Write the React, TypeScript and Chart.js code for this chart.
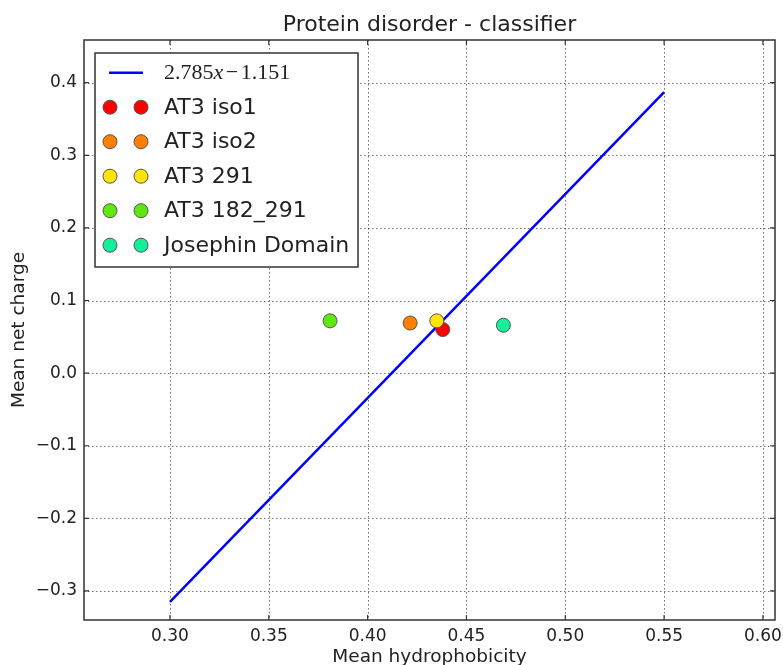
import { useEffect, useRef } from "react";
import { Chart, registerables } from "chart.js";
Chart.register(...registerables);

const titleText = "Protein disorder - classifier";
const xLabel = "Mean hydrophobicity";
const yLabel = "Mean net charge";

const xTicks = [0.3, 0.35, 0.4, 0.45, 0.5, 0.55, 0.6];
const yTicks = [-0.3, -0.2, -0.1, 0.0, 0.1, 0.2, 0.3, 0.4];
const xRange = [0.2565, 0.6061];
const yRange = [-0.34, 0.4588];

const slope = 2.785;
const intercept = -1.151;
const lineX = [0.3, 0.55];
const lineY = [-0.315, 0.387];

const seriesNames = ["AT3 iso1", "AT3 iso2", "AT3 291", "AT3 182_291", "Josephin Domain"];
const hydrophobicity = [0.438, 0.4215, 0.435, 0.381, 0.4687];
const netCharge = [0.06, 0.069, 0.072, 0.072, 0.066];
const seriesColors = ["#ff0000", "#ff7f00", "#ffe600", "#5fe80f", "#14ef9a"];

const SANS = "'DejaVu Sans', sans-serif";

const gridPlugin = {
  id: "mplGrid",
  beforeDatasetsDraw(chart: any) {
    const { ctx, chartArea: a, scales } = chart;
    ctx.save();
    ctx.strokeStyle = "rgba(0,0,0,0.55)";
    ctx.lineWidth = 1;
    ctx.setLineDash([1.5, 2.5]);
    xTicks.forEach((v) => {
      const px = Math.round(scales.x.getPixelForValue(v)) + 0.5;
      ctx.beginPath();
      ctx.moveTo(px, a.top);
      ctx.lineTo(px, a.bottom);
      ctx.stroke();
    });
    yTicks.forEach((v) => {
      const py = Math.round(scales.y.getPixelForValue(v)) + 0.5;
      ctx.beginPath();
      ctx.moveTo(a.left, py);
      ctx.lineTo(a.right, py);
      ctx.stroke();
    });
    ctx.restore();
  },
};

const framePlugin = {
  id: "mplFrame",
  afterDatasetsDraw(chart: any) {
    const { ctx, chartArea: a, scales } = chart;
    ctx.save();
    ctx.setLineDash([]);
    ctx.strokeStyle = "#333";
    ctx.lineWidth = 1.5;
    ctx.strokeRect(a.left, a.top, a.right - a.left, a.bottom - a.top);
    ctx.lineWidth = 1.2;
    const tl = 5;
    xTicks.forEach((v) => {
      const px = scales.x.getPixelForValue(v);
      ctx.beginPath();
      ctx.moveTo(px, a.bottom);
      ctx.lineTo(px, a.bottom - tl);
      ctx.moveTo(px, a.top);
      ctx.lineTo(px, a.top + tl);
      ctx.stroke();
    });
    yTicks.forEach((v) => {
      const py = scales.y.getPixelForValue(v);
      ctx.beginPath();
      ctx.moveTo(a.left, py);
      ctx.lineTo(a.left + tl, py);
      ctx.moveTo(a.right, py);
      ctx.lineTo(a.right - tl, py);
      ctx.stroke();
    });
    ctx.restore();
  },
};

const legendPlugin = {
  id: "mplLegend",
  afterDatasetsDraw(chart: any) {
    const { ctx } = chart;
    const box = { left: 95, top: 53, right: 358, bottom: 267 };
    ctx.save();
    ctx.setLineDash([]);
    ctx.fillStyle = "#fff";
    ctx.fillRect(box.left, box.top, box.right - box.left, box.bottom - box.top);
    ctx.strokeStyle = "#333";
    ctx.lineWidth = 1.5;
    ctx.strokeRect(box.left, box.top, box.right - box.left, box.bottom - box.top);
    const rowY0 = 72.7;
    const rowStep = 34.5;
    const m1 = 110;
    const m2 = 141;
    const textX = 164;
    const ds = chart.data.datasets;
    ds.forEach((d: any, i: number) => {
      const y = rowY0 + i * rowStep;
      if (i === 0) {
        ctx.strokeStyle = d.borderColor;
        ctx.lineWidth = 2.5;
        ctx.beginPath();
        ctx.moveTo(m1 - 1, y);
        ctx.lineTo(m2 + 2, y);
        ctx.stroke();
        ctx.fillStyle = "#222";
        ctx.textBaseline = "middle";
        ctx.textAlign = "left";
        const fs = 22;
        const parts: [string, string][] = [
          [slope.toFixed(3), `${fs}px 'Liberation Serif', serif`],
          ["x", `italic ${fs}px 'Liberation Serif', serif`],
          ["\u2212", `${fs}px 'Liberation Serif', serif`],
          [Math.abs(intercept).toFixed(3), `${fs}px 'Liberation Serif', serif`],
        ];
        let x = textX;
        parts.forEach(([t, f], k) => {
          ctx.font = f;
          if (k === 2) x += 2.5;
          ctx.fillText(t, x, y + 1);
          x += ctx.measureText(t).width;
          if (k === 2) x += 2.5;
        });
      } else {
        [m1, m2].forEach((mx) => {
          ctx.beginPath();
          ctx.arc(mx, y, 7, 0, Math.PI * 2);
          ctx.fillStyle = d.backgroundColor;
          ctx.fill();
          ctx.strokeStyle = "#555";
          ctx.lineWidth = 1;
          ctx.stroke();
        });
        ctx.fillStyle = "#222";
        ctx.font = `22px ${SANS}`;
        ctx.textBaseline = "middle";
        ctx.textAlign = "left";
        ctx.fillText(d.label, textX, y + 1);
      }
    });
    ctx.restore();
  },
};

const textPlugin = {
  id: "mplText",
  afterDraw(chart: any) {
    const { ctx, chartArea: a } = chart;
    const cx = (a.left + a.right) / 2;
    ctx.save();
    ctx.fillStyle = "#222";
    ctx.textAlign = "center";
    ctx.textBaseline = "alphabetic";
    ctx.font = `22px ${SANS}`;
    ctx.fillText(titleText, cx, 31);
    ctx.font = `18.5px ${SANS}`;
    ctx.fillText(xLabel, cx, 662);
    ctx.translate(24, (a.top + a.bottom) / 2);
    ctx.rotate(-Math.PI / 2);
    ctx.fillText(yLabel, 0, 0);
    ctx.restore();
  },
};

const fmtY = (v: number) => {
  const s = Math.abs(v).toFixed(1);
  return v < -1e-9 ? "\u2212" + s : s;
};

export default function App() {
  const ref = useRef<HTMLCanvasElement>(null);
  useEffect(() => {
    document.body.style.margin = "0";
    const canvas = ref.current!;
    const lineDs = {
      type: "line" as const,
      label: `${slope}x${intercept}`,
      data: lineX.map((x, i) => ({ x, y: lineY[i] })),
      borderColor: "#0000ff",
      backgroundColor: "#0000ff",
      borderWidth: 2.5,
      pointRadius: 0,
      showLine: true,
      fill: false,
      order: 10,
    };
    const pointDs = seriesNames.map((name, i) => ({
      type: "scatter" as const,
      label: name,
      data: [{ x: hydrophobicity[i], y: netCharge[i] }],
      backgroundColor: seriesColors[i],
      borderColor: "#555",
      borderWidth: 1,
      pointRadius: 7,
      order: 5 - i,
    }));
    const chart = new Chart(canvas, {
      type: "scatter",
      data: { datasets: [lineDs as any, ...pointDs] },
      options: {
        animation: false,
        responsive: false,
        events: [],
        layout: { padding: { left: 0, top: 40, right: 8, bottom: 0 } },
        plugins: { legend: { display: false }, tooltip: { enabled: false }, title: { display: false } },
        scales: {
          x: {
            type: "linear",
            min: xRange[0],
            max: xRange[1],
            afterBuildTicks: (s: any) => {
              s.ticks = xTicks.map((v) => ({ value: v }));
            },
            afterFit: (s: any) => {
              s.height = 45;
              s.paddingLeft = 0;
              s.paddingRight = 0;
            },
            grid: { display: false, drawTicks: false },
            border: { display: false },
            ticks: {
              autoSkip: false,
              maxRotation: 0,
              padding: 6,
              color: "#222",
              font: { family: "DejaVu Sans", size: 17 },
              callback: (v: any) => Number(v).toFixed(2),
            },
          },
          y: {
            type: "linear",
            min: yRange[0],
            max: yRange[1],
            afterBuildTicks: (s: any) => {
              s.ticks = yTicks.map((v) => ({ value: v }));
            },
            afterFit: (s: any) => {
              s.width = 84;
              s.paddingTop = 0;
              s.paddingBottom = 0;
            },
            grid: { display: false, drawTicks: false },
            border: { display: false },
            ticks: {
              autoSkip: false,
              padding: 7,
              color: "#222",
              font: { family: "DejaVu Sans", size: 17 },
              callback: (v: any) => fmtY(Number(v)),
            },
          },
        },
      },
      plugins: [gridPlugin, framePlugin, legendPlugin, textPlugin],
    });
    return () => chart.destroy();
  }, []);
  return (
    <div style={{ width: 783, height: 665 }}>
      <canvas ref={ref} width={783} height={665} style={{ display: "block" }} />
    </div>
  );
}
